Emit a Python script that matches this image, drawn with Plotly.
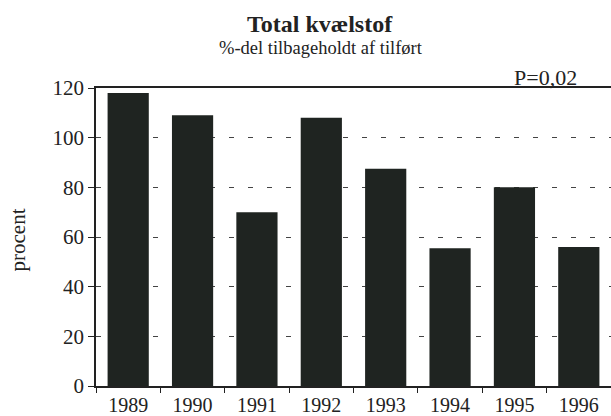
import plotly.graph_objects as go

years = ["1989", "1990", "1991", "1992", "1993", "1994", "1995", "1996"]
retained_pct = [118, 109, 70, 108, 87.5, 55.5, 80, 56]
y_ticks = [0, 20, 40, 60, 80, 100, 120]

serif = "Liberation Serif"
ink = "#222222"

fig = go.Figure()

fig.add_trace(
    go.Bar(
        x=years,
        y=retained_pct,
        marker=dict(color="#1f2421", line=dict(width=0)),
        showlegend=False,
    )
)

fig.update_layout(
    width=611,
    height=416,
    margin=dict(l=96, r=0, t=88, b=27),
    paper_bgcolor="white",
    plot_bgcolor="white",
    bargap=0.36,
    font=dict(family=serif, color=ink),
    xaxis=dict(
        type="category",
        showline=True,
        linecolor=ink,
        linewidth=1.5,
        mirror=True,
        ticks="outside",
        tickson="boundaries",
        ticklen=5,
        tickcolor=ink,
        showgrid=False,
        tickfont=dict(size=20, family=serif, color=ink),
    ),
    yaxis=dict(
        range=[0, 120],
        tickvals=y_ticks,
        showline=True,
        linecolor=ink,
        linewidth=1.5,
        ticks="outside",
        ticklen=6,
        tickcolor=ink,
        showgrid=True,
        gridcolor="#444444",
        gridwidth=1.2,
        griddash="5px,14px",
        zeroline=False,
        tickfont=dict(size=21, family=serif, color=ink),
    ),
    annotations=[
        dict(
            text="<b>Total kvælstof</b>",
            xref="paper", yref="paper",
            x=0.435, y=(88 - 23) / 301 + 1,
            xanchor="center", yanchor="middle",
            showarrow=False,
            font=dict(size=24, family=serif, color=ink),
        ),
        dict(
            text="%-del tilbageholdt af tilført",
            xref="paper", yref="paper",
            x=0.437, y=(88 - 48) / 301 + 1,
            xanchor="center", yanchor="middle",
            showarrow=False,
            font=dict(size=18.5, family=serif, color=ink),
        ),
        dict(
            text="P=0,02",
            xref="paper", yref="paper",
            x=(579 - 96) / 515, y=(88 - 77) / 301 + 1,
            xanchor="right", yanchor="middle",
            showarrow=False,
            font=dict(size=22, family=serif, color=ink),
        ),
        dict(
            text="procent",
            xref="paper", yref="paper",
            x=(18 - 96) / 515, y=(389 - 242) / 301,
            xanchor="center", yanchor="middle",
            textangle=-90,
            showarrow=False,
            font=dict(size=21, family=serif, color=ink),
        ),
    ],
)

# page body has a default margin that would shift the chart; remove it
fig.write_html(
    "out.html",
    config={"displayModeBar": False},
    post_script="document.body.style.margin='0';",
)
